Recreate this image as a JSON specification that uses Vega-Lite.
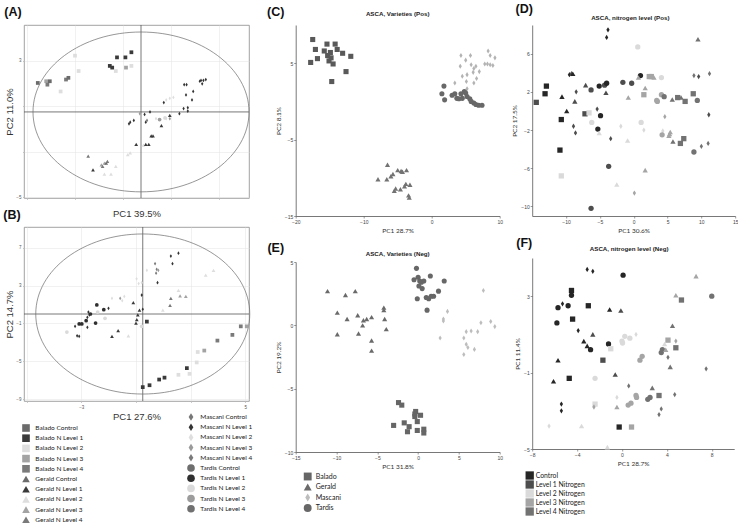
{
"$schema":"https://vega.github.io/schema/vega-lite/v6.json",
"padding":{"left":2,"top":2,"right":0,"bottom":0},
"background":"white",
"datasets":{
"A1":[
{"x":-8.6,"y":1.7,"g":"Balado Control"},{"x":-7.9,"y":1.8,"g":"Balado N Level 3"},{"x":-7.8,"y":1.6,"g":"Balado N Level 4"},{"x":-7.6,"y":1.8,"g":"Balado Control"},{"x":-6.7,"y":1.2,"g":"Balado N Level 2"},{"x":-6.25,"y":1.9,"g":"Balado N Level 4"},{"x":-6.05,"y":2.0,"g":"Balado Control"},{"x":-5.5,"y":3.3,"g":"Balado N Level 2"},{"x":-5.2,"y":2.4,"g":"Balado N Level 2"},{"x":-2.6,"y":2.7,"g":"Balado N Level 1"},{"x":-2.4,"y":2.6,"g":"Balado N Level 1"},{"x":-2.0,"y":3.2,"g":"Balado N Level 1"},{"x":-2.1,"y":2.4,"g":"Balado N Level 2"},{"x":-1.3,"y":3.2,"g":"Balado N Level 1"},{"x":-1.25,"y":2.6,"g":"Balado N Level 3"},{"x":-0.8,"y":3.5,"g":"Balado N Level 1"},{"x":-0.8,"y":2.7,"g":"Balado N Level 2"},
{"x":-4.4,"y":-2.6,"g":"Gerald N Level 4"},{"x":-4.0,"y":-3.4,"g":"Gerald N Level 1"},{"x":-3.3,"y":-3.1,"g":"Gerald N Level 3"},{"x":-3.2,"y":-3.2,"g":"Gerald N Level 4"},{"x":-3.05,"y":-3.0,"g":"Gerald N Level 3"},{"x":-2.9,"y":-3.0,"g":"Gerald Control"},{"x":-2.8,"y":-2.9,"g":"Gerald N Level 4"},{"x":-3.05,"y":-3.65,"g":"Gerald N Level 2"},{"x":-2.5,"y":-3.65,"g":"Gerald N Level 2"},{"x":-2.1,"y":-3.2,"g":"Gerald N Level 2"},{"x":-1.1,"y":-2.5,"g":"Gerald N Level 2"},{"x":-0.9,"y":-2.4,"g":"Gerald N Level 2"},{"x":-0.4,"y":-1.9,"g":"Gerald N Level 1"},{"x":0.2,"y":-1.95,"g":"Gerald N Level 2"},{"x":0.4,"y":-1.9,"g":"Gerald N Level 1"},{"x":0.65,"y":-1.9,"g":"Gerald N Level 1"},{"x":0.85,"y":-1.4,"g":"Gerald N Level 1"},{"x":1.0,"y":-1.4,"g":"Gerald N Level 1"},{"x":1.7,"y":-0.8,"g":"Gerald N Level 1"},{"x":2.4,"y":-0.2,"g":"Gerald N Level 1"}
],
"A2":[
{"x":-1.0,"y":-0.7,"g":"Mascani N Level 1"},{"x":-0.9,"y":-0.6,"g":"Mascani N Level 1"},{"x":-0.6,"y":-0.5,"g":"Mascani N Level 1"},{"x":-0.1,"y":-0.1,"g":"Mascani N Level 3"},{"x":0.3,"y":-0.15,"g":"Mascani N Level 1"},{"x":0.75,"y":0.0,"g":"Mascani N Level 1"},{"x":0.4,"y":-0.6,"g":"Mascani N Level 1"},{"x":0.5,"y":-0.5,"g":"Mascani N Level 4"},{"x":1.25,"y":-0.4,"g":"Mascani N Level 2"},{"x":1.9,"y":0.55,"g":"Mascani N Level 1"},{"x":2.1,"y":0.7,"g":"Mascani N Level 2"},{"x":2.4,"y":0.8,"g":"Mascani N Level 2"},{"x":2.7,"y":0.85,"g":"Mascani N Level 2"},{"x":2.1,"y":-0.4,"g":"Mascani N Level 2"},{"x":2.4,"y":-0.4,"g":"Mascani N Level 3"},{"x":3.55,"y":0.2,"g":"Mascani N Level 1"},{"x":3.9,"y":0.25,"g":"Mascani N Level 1"},{"x":3.9,"y":0.05,"g":"Mascani N Level 1"},{"x":3.2,"y":-0.1,"g":"Mascani N Level 1"},{"x":3.6,"y":1.6,"g":"Mascani N Level 1"},{"x":3.8,"y":1.6,"g":"Mascani N Level 1"},{"x":3.75,"y":1.0,"g":"Mascani N Level 1"},{"x":4.25,"y":0.7,"g":"Mascani N Level 1"},{"x":4.35,"y":1.2,"g":"Mascani N Level 1"},{"x":4.9,"y":1.8,"g":"Mascani N Level 1"},{"x":5.0,"y":1.85,"g":"Mascani N Level 1"},{"x":5.2,"y":1.85,"g":"Mascani N Level 1"},{"x":5.4,"y":1.9,"g":"Mascani N Level 1"},{"x":5.1,"y":1.65,"g":"Mascani N Level 1"},{"x":2.0,"y":-0.35,"g":"Tardis N Level 2"},{"x":1.55,"y":-0.45,"g":"Tardis N Level 3"}
],
"B1":[
{"x":3.07,"y":4.1,"g":"Gerald N Level 2"},{"x":3.45,"y":4.6,"g":"Gerald N Level 2"},{"x":1.74,"y":2.5,"g":"Gerald N Level 2"},{"x":1.82,"y":1.9,"g":"Gerald N Level 3"},{"x":2.1,"y":1.85,"g":"Gerald N Level 3"},{"x":1.37,"y":1.65,"g":"Gerald N Level 4"},{"x":1.33,"y":0.9,"g":"Gerald N Level 4"},{"x":0.98,"y":0.4,"g":"Gerald N Level 2"},{"x":-0.46,"y":1.2,"g":"Gerald N Level 1"},{"x":-0.16,"y":0.4,"g":"Gerald N Level 1"},{"x":-0.24,"y":-0.1,"g":"Gerald N Level 1"},{"x":-0.29,"y":-0.6,"g":"Gerald N Level 1"},{"x":-0.33,"y":-0.95,"g":"Gerald N Level 1"},{"x":-1.2,"y":-1.75,"g":"Gerald N Level 1"},{"x":-1.5,"y":-2.35,"g":"Gerald N Level 1"},{"x":-0.7,"y":-2.3,"g":"Gerald N Level 2"},
{"x":0.2,"y":-0.8,"g":"Balado N Level 1"},{"x":0.0,"y":-7.7,"g":"Balado N Level 1"},{"x":0.33,"y":-7.5,"g":"Balado N Level 1"},{"x":0.8,"y":-6.9,"g":"Balado N Level 1"},{"x":1.06,"y":-6.7,"g":"Balado N Level 1"},{"x":1.74,"y":-6.4,"g":"Balado N Level 2"},{"x":2.15,"y":-5.7,"g":"Balado N Level 1"},{"x":2.28,"y":-6.3,"g":"Balado N Level 2"},{"x":2.63,"y":-5.1,"g":"Balado N Level 2"},{"x":2.68,"y":-4.0,"g":"Balado N Level 2"},{"x":3.0,"y":-3.85,"g":"Balado N Level 3"},{"x":3.64,"y":-2.8,"g":"Balado N Level 4"},{"x":4.37,"y":-2.2,"g":"Balado N Level 4"},{"x":4.78,"y":-1.3,"g":"Balado N Level 4"},{"x":5.07,"y":-1.3,"g":"Balado N Level 3"}
],
"B2":[
{"x":1.37,"y":6.1,"g":"Mascani N Level 1"},{"x":1.74,"y":6.4,"g":"Mascani N Level 1"},{"x":1.45,"y":5.3,"g":"Mascani N Level 1"},{"x":0.6,"y":5.3,"g":"Mascani N Level 4"},{"x":0.68,"y":4.7,"g":"Mascani N Level 4"},{"x":0.76,"y":4.6,"g":"Mascani N Level 3"},{"x":0.65,"y":4.3,"g":"Mascani N Level 4"},{"x":0.72,"y":3.3,"g":"Mascani N Level 1"},{"x":0.2,"y":4.6,"g":"Mascani N Level 2"},{"x":-0.3,"y":3.7,"g":"Mascani N Level 2"},{"x":-0.2,"y":3.2,"g":"Mascani N Level 2"},{"x":-0.05,"y":3.3,"g":"Mascani N Level 2"},{"x":-0.05,"y":2.0,"g":"Mascani N Level 1"},{"x":0.0,"y":0.5,"g":"Mascani N Level 1"},
{"x":-2.24,"y":0.95,"g":"Tardis N Level 1"},{"x":-2.65,"y":0.2,"g":"Mascani N Level 1"},{"x":-2.6,"y":-0.1,"g":"Mascani N Level 1"},{"x":-2.55,"y":0.0,"g":"Tardis N Level 1"},{"x":-2.7,"y":-0.35,"g":"Mascani N Level 1"},{"x":-2.76,"y":-0.7,"g":"Tardis N Level 1"},{"x":-2.7,"y":-1.4,"g":"Mascani N Level 1"},{"x":-3.3,"y":-1.3,"g":"Mascani N Level 1"},{"x":-3.1,"y":-1.05,"g":"Tardis N Level 1"},{"x":-2.97,"y":-1.05,"g":"Tardis N Level 1"},{"x":-3.2,"y":-2.3,"g":"Mascani N Level 1"},{"x":-3.1,"y":-2.35,"g":"Mascani N Level 1"},{"x":-2.3,"y":-0.95,"g":"Tardis N Level 1"},{"x":-1.9,"y":0.45,"g":"Tardis N Level 1"},{"x":-1.67,"y":0.6,"g":"Mascani N Level 1"},
{"x":-3.7,"y":-1.9,"g":"Tardis N Level 2"},{"x":-2.2,"y":0.2,"g":"Tardis N Level 2"},{"x":-1.84,"y":-0.45,"g":"Tardis N Level 2"},{"x":-1.5,"y":1.65,"g":"Mascani N Level 2"},{"x":-1.1,"y":1.65,"g":"Mascani N Level 3"},{"x":-0.9,"y":1.85,"g":"Mascani N Level 2"},{"x":-1.0,"y":1.4,"g":"Mascani N Level 2"},{"x":-0.05,"y":-1.3,"g":"Tardis N Level 2"}
],
"C":[
{"x":-17.5,"y":8.1,"v":"Balado"},{"x":-17.1,"y":6.8,"v":"Balado"},{"x":-16.8,"y":5.6,"v":"Balado"},{"x":-17.8,"y":5.1,"v":"Balado"},{"x":-15.8,"y":6.6,"v":"Balado"},{"x":-15.4,"y":7.5,"v":"Balado"},{"x":-15.3,"y":6.0,"v":"Balado"},{"x":-15.1,"y":5.3,"v":"Balado"},{"x":-14.9,"y":6.4,"v":"Balado"},{"x":-14.8,"y":5.7,"v":"Balado"},{"x":-14.5,"y":4.9,"v":"Balado"},{"x":-14.2,"y":7.5,"v":"Balado"},{"x":-13.9,"y":6.8,"v":"Balado"},{"x":-13.1,"y":6.3,"v":"Balado"},{"x":-11.9,"y":5.9,"v":"Balado"},{"x":-12.6,"y":3.9,"v":"Balado"},{"x":-14.7,"y":2.6,"v":"Balado"},
{"x":-6.5,"y":-8.3,"v":"Gerald"},{"x":-7.9,"y":-10.2,"v":"Gerald"},{"x":-6.6,"y":-10.2,"v":"Gerald"},{"x":-6.0,"y":-9.8,"v":"Gerald"},{"x":-5.7,"y":-9.5,"v":"Gerald"},{"x":-5.0,"y":-9.0,"v":"Gerald"},{"x":-4.5,"y":-9.1,"v":"Gerald"},{"x":-4.3,"y":-9.2,"v":"Gerald"},{"x":-3.7,"y":-9.0,"v":"Gerald"},{"x":-5.5,"y":-11.7,"v":"Gerald"},{"x":-5.3,"y":-11.4,"v":"Gerald"},{"x":-4.6,"y":-11.5,"v":"Gerald"},{"x":-4.0,"y":-11.1,"v":"Gerald"},{"x":-3.8,"y":-10.8,"v":"Gerald"},{"x":-3.2,"y":-10.9,"v":"Gerald"},{"x":-3.3,"y":-12.6,"v":"Gerald"},{"x":-3.4,"y":-12.3,"v":"Gerald"},
{"x":4.3,"y":6.0,"v":"Mascani"},{"x":5.0,"y":5.4,"v":"Mascani"},{"x":5.7,"y":6.0,"v":"Mascani"},{"x":4.2,"y":4.6,"v":"Mascani"},{"x":5.8,"y":4.8,"v":"Mascani"},{"x":6.2,"y":4.3,"v":"Mascani"},{"x":3.4,"y":2.4,"v":"Mascani"},{"x":4.5,"y":3.3,"v":"Mascani"},{"x":5.2,"y":3.5,"v":"Mascani"},{"x":5.1,"y":2.6,"v":"Mascani"},{"x":6.1,"y":3.8,"v":"Mascani"},{"x":6.2,"y":2.4,"v":"Mascani"},{"x":5.2,"y":1.65,"v":"Mascani"},{"x":6.5,"y":4.6,"v":"Mascani"},{"x":6.6,"y":3.0,"v":"Mascani"},{"x":8.3,"y":6.6,"v":"Mascani"},{"x":8.6,"y":6.0,"v":"Mascani"},{"x":7.8,"y":4.9,"v":"Mascani"},{"x":8.2,"y":4.9,"v":"Mascani"},{"x":8.6,"y":4.8,"v":"Mascani"},{"x":9.0,"y":4.7,"v":"Mascani"},{"x":9.3,"y":5.7,"v":"Mascani"},{"x":7.0,"y":3.9,"v":"Mascani"},
{"x":1.5,"y":1.0,"v":"Tardis"},{"x":1.8,"y":2.0,"v":"Tardis"},{"x":1.9,"y":0.2,"v":"Tardis"},{"x":3.0,"y":0.8,"v":"Tardis"},{"x":3.4,"y":1.0,"v":"Tardis"},{"x":3.7,"y":0.4,"v":"Tardis"},{"x":4.0,"y":0.35,"v":"Tardis"},{"x":4.3,"y":1.0,"v":"Tardis"},{"x":4.5,"y":0.4,"v":"Tardis"},{"x":4.8,"y":1.3,"v":"Tardis"},{"x":5.0,"y":1.1,"v":"Tardis"},{"x":5.2,"y":0.65,"v":"Tardis"},{"x":5.6,"y":0.35,"v":"Tardis"},{"x":5.8,"y":0.0,"v":"Tardis"},{"x":6.2,"y":-0.2,"v":"Tardis"},{"x":6.5,"y":-0.4,"v":"Tardis"},{"x":6.9,"y":-0.5,"v":"Tardis"},{"x":7.4,"y":-0.5,"v":"Tardis"}
],
"E":[
{"x":-0.2,"y":4.5,"v":"Tardis"},{"x":-0.5,"y":3.6,"v":"Tardis"},{"x":0.0,"y":3.8,"v":"Tardis"},{"x":0.2,"y":3.5,"v":"Tardis"},{"x":0.4,"y":3.4,"v":"Tardis"},{"x":0.7,"y":3.5,"v":"Tardis"},{"x":0.1,"y":3.1,"v":"Tardis"},{"x":0.5,"y":2.9,"v":"Tardis"},{"x":1.5,"y":3.9,"v":"Tardis"},{"x":3.2,"y":3.5,"v":"Tardis"},{"x":2.5,"y":2.7,"v":"Tardis"},{"x":-0.1,"y":2.1,"v":"Tardis"},{"x":1.0,"y":2.2,"v":"Tardis"},{"x":1.3,"y":2.1,"v":"Tardis"},{"x":1.6,"y":2.3,"v":"Tardis"},{"x":1.9,"y":2.3,"v":"Tardis"},{"x":1.1,"y":1.2,"v":"Tardis"},
{"x":-11.1,"y":2.7,"v":"Gerald"},{"x":-8.9,"y":2.4,"v":"Gerald"},{"x":-7.7,"y":2.7,"v":"Gerald"},{"x":-9.9,"y":1.0,"v":"Gerald"},{"x":-8.7,"y":0.5,"v":"Gerald"},{"x":-7.4,"y":0.8,"v":"Gerald"},{"x":-6.7,"y":0.4,"v":"Gerald"},{"x":-6.3,"y":0.5,"v":"Gerald"},{"x":-5.7,"y":0.65,"v":"Gerald"},{"x":-6.8,"y":0.0,"v":"Gerald"},{"x":-7.3,"y":-0.65,"v":"Gerald"},{"x":-9.9,"y":-0.7,"v":"Gerald"},{"x":-5.7,"y":-1.2,"v":"Gerald"},{"x":-5.7,"y":-2.0,"v":"Gerald"},{"x":-4.2,"y":1.4,"v":"Gerald"},{"x":-4.2,"y":1.2,"v":"Gerald"},{"x":-4.1,"y":0.5,"v":"Gerald"},{"x":-3.9,"y":-0.3,"v":"Gerald"},
{"x":3.6,"y":1.1,"v":"Mascani"},{"x":3.1,"y":0.5,"v":"Mascani"},{"x":3.1,"y":0.35,"v":"Mascani"},{"x":2.7,"y":-1.0,"v":"Mascani"},{"x":5.9,"y":-0.5,"v":"Mascani"},{"x":6.5,"y":-0.45,"v":"Mascani"},{"x":7.3,"y":-0.5,"v":"Mascani"},{"x":5.6,"y":-1.0,"v":"Mascani"},{"x":5.9,"y":-1.5,"v":"Mascani"},{"x":6.1,"y":-1.75,"v":"Mascani"},{"x":5.6,"y":-2.3,"v":"Mascani"},{"x":6.9,"y":-1.9,"v":"Mascani"},{"x":8.0,"y":2.75,"v":"Mascani"},{"x":7.7,"y":0.2,"v":"Mascani"},{"x":8.9,"y":0.3,"v":"Mascani"},{"x":9.4,"y":-0.1,"v":"Mascani"},
{"x":-2.4,"y":-6.1,"v":"Balado"},{"x":-2.0,"y":-6.3,"v":"Balado"},{"x":-0.3,"y":-6.8,"v":"Balado"},{"x":-0.4,"y":-7.0,"v":"Balado"},{"x":0.3,"y":-7.1,"v":"Balado"},{"x":-0.4,"y":-7.2,"v":"Balado"},{"x":-1.7,"y":-7.7,"v":"Balado"},{"x":-1.1,"y":-8.0,"v":"Balado"},{"x":-0.1,"y":-7.6,"v":"Balado"},{"x":-3.0,"y":-7.9,"v":"Balado"},{"x":-1.3,"y":-8.4,"v":"Balado"},{"x":-0.1,"y":-8.3,"v":"Balado"},{"x":0.7,"y":-8.2,"v":"Balado"},{"x":0.7,"y":-8.5,"v":"Balado"}
],
"D":[
{"x":-3.8,"y":8.5,"v":"Mascani","n":"Control"},{"x":-4.0,"y":7.7,"v":"Mascani","n":"Control"},{"x":0.6,"y":6.7,"v":"Tardis","n":"Level 2 Nitrogen"},{"x":9.5,"y":7.5,"v":"Gerald","n":"Level 4 Nitrogen"},{"x":-9.5,"y":3.8,"v":"Mascani","n":"Control"},{"x":-9.2,"y":3.9,"v":"Mascani","n":"Level 1 Nitrogen"},{"x":-9.0,"y":3.9,"v":"Gerald","n":"Control"},{"x":-12.9,"y":2.6,"v":"Balado","n":"Control"},{"x":-13.1,"y":1.8,"v":"Balado","n":"Control"},{"x":-14.4,"y":0.9,"v":"Balado","n":"Level 1 Nitrogen"},{"x":-10.6,"y":1.5,"v":"Gerald","n":"Control"},{"x":-8.7,"y":1.0,"v":"Gerald","n":"Level 1 Nitrogen"},{"x":-9.9,"y":0.0,"v":"Gerald","n":"Control"},{"x":-10.7,"y":-0.9,"v":"Balado","n":"Control"},{"x":-8.5,"y":2.0,"v":"Mascani","n":"Level 1 Nitrogen"},{"x":-7.1,"y":2.7,"v":"Gerald","n":"Level 1 Nitrogen"},{"x":-6.3,"y":2.2,"v":"Tardis","n":"Level 1 Nitrogen"},{"x":-5.1,"y":2.6,"v":"Tardis","n":"Control"},{"x":-4.3,"y":2.7,"v":"Tardis","n":"Level 1 Nitrogen"},{"x":-4.0,"y":2.9,"v":"Tardis","n":"Control"},{"x":-4.1,"y":1.9,"v":"Gerald","n":"Level 1 Nitrogen"},{"x":-1.6,"y":3.0,"v":"Tardis","n":"Level 1 Nitrogen"},{"x":-0.3,"y":2.9,"v":"Tardis","n":"Level 1 Nitrogen"},{"x":1.0,"y":3.7,"v":"Tardis","n":"Control"},{"x":0.7,"y":3.5,"v":"Gerald","n":"Level 3 Nitrogen"},{"x":2.3,"y":3.6,"v":"Balado","n":"Level 3 Nitrogen"},{"x":2.6,"y":3.6,"v":"Balado","n":"Level 3 Nitrogen"},{"x":3.0,"y":3.5,"v":"Gerald","n":"Level 3 Nitrogen"},{"x":4.1,"y":3.5,"v":"Tardis","n":"Level 2 Nitrogen"},{"x":1.7,"y":2.4,"v":"Gerald","n":"Level 3 Nitrogen"},{"x":1.5,"y":1.7,"v":"Balado","n":"Level 3 Nitrogen"},{"x":-0.8,"y":1.4,"v":"Gerald","n":"Level 3 Nitrogen"},{"x":3.4,"y":1.1,"v":"Tardis","n":"Level 3 Nitrogen"},{"x":3.5,"y":1.0,"v":"Tardis","n":"Level 3 Nitrogen"},{"x":4.1,"y":1.7,"v":"Tardis","n":"Level 3 Nitrogen"},{"x":4.5,"y":1.5,"v":"Tardis","n":"Level 4 Nitrogen"},{"x":5.7,"y":1.2,"v":"Gerald","n":"Level 4 Nitrogen"},{"x":6.5,"y":1.4,"v":"Balado","n":"Level 4 Nitrogen"},{"x":7.0,"y":1.4,"v":"Gerald","n":"Level 4 Nitrogen"},{"x":7.6,"y":1.0,"v":"Balado","n":"Level 4 Nitrogen"},{"x":8.8,"y":1.8,"v":"Balado","n":"Level 4 Nitrogen"},{"x":9.4,"y":1.1,"v":"Tardis","n":"Level 4 Nitrogen"},{"x":8.9,"y":3.7,"v":"Mascani","n":"Level 4 Nitrogen"},{"x":9.6,"y":3.6,"v":"Mascani","n":"Level 1 Nitrogen"},{"x":11.2,"y":3.9,"v":"Mascani","n":"Level 4 Nitrogen"},{"x":11.1,"y":-0.4,"v":"Mascani","n":"Level 1 Nitrogen"},{"x":4.6,"y":-0.6,"v":"Mascani","n":"Level 3 Nitrogen"},{"x":-7.2,"y":-0.3,"v":"Balado","n":"Level 1 Nitrogen"},{"x":-6.6,"y":-0.2,"v":"Balado","n":"Level 2 Nitrogen"},{"x":-6.2,"y":-1.2,"v":"Tardis","n":"Level 2 Nitrogen"},{"x":-5.4,"y":0.2,"v":"Mascani","n":"Level 1 Nitrogen"},{"x":-4.9,"y":-0.5,"v":"Tardis","n":"Control"},{"x":-8.9,"y":-1.6,"v":"Mascani","n":"Level 1 Nitrogen"},{"x":-8.6,"y":-2.3,"v":"Mascani","n":"Level 1 Nitrogen"},{"x":-5.3,"y":-1.9,"v":"Tardis","n":"Control"},{"x":-5.1,"y":-2.3,"v":"Gerald","n":"Level 2 Nitrogen"},{"x":-3.4,"y":-2.9,"v":"Mascani","n":"Level 1 Nitrogen"},{"x":-1.9,"y":-1.6,"v":"Mascani","n":"Level 2 Nitrogen"},{"x":1.1,"y":-1.2,"v":"Tardis","n":"Level 2 Nitrogen"},{"x":1.5,"y":-2.0,"v":"Mascani","n":"Level 2 Nitrogen"},{"x":-0.9,"y":-3.1,"v":"Gerald","n":"Level 2 Nitrogen"},{"x":4.3,"y":-2.1,"v":"Mascani","n":"Level 2 Nitrogen"},{"x":4.2,"y":-2.5,"v":"Tardis","n":"Level 3 Nitrogen"},{"x":5.2,"y":-2.6,"v":"Gerald","n":"Level 3 Nitrogen"},{"x":5.3,"y":-2.4,"v":"Gerald","n":"Level 3 Nitrogen"},{"x":5.4,"y":-2.2,"v":"Gerald","n":"Level 3 Nitrogen"},{"x":5.8,"y":-3.2,"v":"Gerald","n":"Level 4 Nitrogen"},{"x":6.9,"y":-3.4,"v":"Balado","n":"Level 4 Nitrogen"},{"x":7.4,"y":-2.9,"v":"Balado","n":"Level 4 Nitrogen"},{"x":10.0,"y":-3.7,"v":"Mascani","n":"Level 4 Nitrogen"},{"x":11.0,"y":-3.4,"v":"Mascani","n":"Level 4 Nitrogen"},{"x":8.9,"y":-4.3,"v":"Tardis","n":"Level 4 Nitrogen"},{"x":-10.9,"y":-4.1,"v":"Balado","n":"Control"},{"x":-3.7,"y":-5.8,"v":"Tardis","n":"Level 1 Nitrogen"},{"x":1.7,"y":-6.2,"v":"Gerald","n":"Level 3 Nitrogen"},{"x":-10.7,"y":-6.8,"v":"Balado","n":"Level 2 Nitrogen"},{"x":-2.5,"y":-7.7,"v":"Gerald","n":"Level 2 Nitrogen"},{"x":0.1,"y":-8.6,"v":"Mascani","n":"Level 3 Nitrogen"},{"x":-6.3,"y":-10.2,"v":"Tardis","n":"Level 1 Nitrogen"}
],
"F":[
{"x":-3.1,"y":4.4,"v":"Mascani","n":"Control"},{"x":-2.6,"y":4.3,"v":"Mascani","n":"Control"},{"x":0.1,"y":4.1,"v":"Tardis","n":"Control"},{"x":6.6,"y":4.05,"v":"Gerald","n":"Level 3 Nitrogen"},{"x":-4.5,"y":3.3,"v":"Balado","n":"Control"},{"x":-4.5,"y":3.05,"v":"Tardis","n":"Control"},{"x":-3.0,"y":2.5,"v":"Balado","n":"Control"},{"x":-5.7,"y":2.4,"v":"Tardis","n":"Control"},{"x":-5.3,"y":2.6,"v":"Mascani","n":"Control"},{"x":-4.8,"y":2.5,"v":"Tardis","n":"Control"},{"x":-4.4,"y":1.8,"v":"Balado","n":"Control"},{"x":-5.8,"y":1.6,"v":"Tardis","n":"Control"},{"x":-3.9,"y":1.2,"v":"Mascani","n":"Control"},{"x":-3.4,"y":0.65,"v":"Gerald","n":"Control"},{"x":-3.1,"y":0.4,"v":"Gerald","n":"Control"},{"x":-2.8,"y":0.2,"v":"Tardis","n":"Control"},{"x":-2.6,"y":1.0,"v":"Gerald","n":"Level 1 Nitrogen"},{"x":-1.1,"y":2.3,"v":"Gerald","n":"Control"},{"x":-0.1,"y":2.25,"v":"Gerald","n":"Level 1 Nitrogen"},{"x":-5.7,"y":-0.35,"v":"Gerald","n":"Control"},{"x":-6.1,"y":-1.45,"v":"Gerald","n":"Control"},{"x":-4.7,"y":-1.3,"v":"Balado","n":"Control"},{"x":-1.2,"y":0.5,"v":"Tardis","n":"Control"},{"x":-1.7,"y":-0.35,"v":"Balado","n":"Level 1 Nitrogen"},{"x":-0.6,"y":-1.1,"v":"Gerald","n":"Level 1 Nitrogen"},{"x":-5.4,"y":-2.65,"v":"Mascani","n":"Control"},{"x":-5.4,"y":-3.0,"v":"Mascani","n":"Control"},{"x":-1.0,"y":0.25,"v":"Balado","n":"Level 2 Nitrogen"},{"x":0.0,"y":0.65,"v":"Tardis","n":"Level 2 Nitrogen"},{"x":0.05,"y":0.55,"v":"Tardis","n":"Level 2 Nitrogen"},{"x":0.25,"y":0.9,"v":"Tardis","n":"Level 2 Nitrogen"},{"x":0.7,"y":0.8,"v":"Tardis","n":"Level 2 Nitrogen"},{"x":1.25,"y":1.0,"v":"Mascani","n":"Level 2 Nitrogen"},{"x":-2.4,"y":-1.3,"v":"Tardis","n":"Level 2 Nitrogen"},{"x":-2.4,"y":-2.65,"v":"Balado","n":"Level 2 Nitrogen"},{"x":-2.5,"y":-2.8,"v":"Mascani","n":"Level 3 Nitrogen"},{"x":-0.45,"y":-2.3,"v":"Mascani","n":"Level 2 Nitrogen"},{"x":-0.45,"y":-2.8,"v":"Gerald","n":"Level 3 Nitrogen"},{"x":0.6,"y":-1.7,"v":"Mascani","n":"Level 4 Nitrogen"},{"x":0.55,"y":-2.7,"v":"Tardis","n":"Level 3 Nitrogen"},{"x":0.8,"y":-2.6,"v":"Tardis","n":"Level 3 Nitrogen"},{"x":1.25,"y":-2.2,"v":"Tardis","n":"Level 3 Nitrogen"},{"x":1.3,"y":-2.3,"v":"Tardis","n":"Level 3 Nitrogen"},{"x":1.6,"y":-0.35,"v":"Tardis","n":"Level 3 Nitrogen"},{"x":1.8,"y":-0.15,"v":"Tardis","n":"Level 3 Nitrogen"},{"x":2.3,"y":-2.4,"v":"Tardis","n":"Level 4 Nitrogen"},{"x":2.5,"y":-2.3,"v":"Tardis","n":"Level 4 Nitrogen"},{"x":2.7,"y":-1.8,"v":"Gerald","n":"Level 4 Nitrogen"},{"x":3.3,"y":-2.2,"v":"Balado","n":"Level 4 Nitrogen"},{"x":3.5,"y":0.05,"v":"Tardis","n":"Level 4 Nitrogen"},{"x":3.6,"y":0.2,"v":"Tardis","n":"Level 4 Nitrogen"},{"x":3.9,"y":0.2,"v":"Gerald","n":"Level 3 Nitrogen"},{"x":3.8,"y":0.5,"v":"Gerald","n":"Level 2 Nitrogen"},{"x":4.1,"y":0.7,"v":"Balado","n":"Level 3 Nitrogen"},{"x":4.1,"y":-0.2,"v":"Mascani","n":"Level 4 Nitrogen"},{"x":4.3,"y":-0.7,"v":"Gerald","n":"Level 4 Nitrogen"},{"x":4.5,"y":1.45,"v":"Gerald","n":"Level 4 Nitrogen"},{"x":4.8,"y":0.65,"v":"Mascani","n":"Level 3 Nitrogen"},{"x":4.8,"y":0.3,"v":"Balado","n":"Level 4 Nitrogen"},{"x":4.8,"y":3.05,"v":"Gerald","n":"Level 3 Nitrogen"},{"x":5.3,"y":2.8,"v":"Balado","n":"Level 4 Nitrogen"},{"x":8.0,"y":3.0,"v":"Tardis","n":"Level 4 Nitrogen"},{"x":7.5,"y":-0.8,"v":"Mascani","n":"Level 4 Nitrogen"},{"x":3.3,"y":-3.2,"v":"Mascani","n":"Level 4 Nitrogen"},{"x":3.5,"y":-2.9,"v":"Mascani","n":"Level 4 Nitrogen"},{"x":4.7,"y":-2.15,"v":"Mascani","n":"Level 4 Nitrogen"},{"x":-0.25,"y":-3.85,"v":"Balado","n":"Control"},{"x":0.85,"y":-3.85,"v":"Balado","n":"Level 3 Nitrogen"},{"x":-6.5,"y":-3.8,"v":"Mascani","n":"Level 2 Nitrogen"},{"x":-3.6,"y":-3.8,"v":"Gerald","n":"Level 2 Nitrogen"},{"x":-1.3,"y":-4.9,"v":"Gerald","n":"Level 2 Nitrogen"}
]
},
"hconcat":[
{"vconcat":[
{"width":225,"height":173,"view":{"stroke":"#8a8a8a","strokeWidth":0.8},
"layer":[
{"data":{"values":[{}]},"mark":{"type":"rule","color":"#555","strokeWidth":0.8},"encoding":{"x":{"datum":0,"type":"quantitative"}}},
{"data":{"values":[{}]},"mark":{"type":"rule","color":"#555","strokeWidth":0.8},"encoding":{"y":{"datum":0,"type":"quantitative"}}},
{"data":{"values":[{}]},"mark":{"type":"point","shape":"M-1,0C-1,-0.409,-0.5523,-0.74,0,-0.74C0.5523,-0.74,1,-0.409,1,0C1,0.409,0.5523,0.74,0,0.74C-0.5523,0.74,-1,0.409,-1,0Z","size":46656,"filled":false,"color":"#6a6a6a","strokeWidth":0.7,"opacity":1},"encoding":{"x":{"datum":0,"type":"quantitative"},"y":{"datum":0,"type":"quantitative"}}},
{"data":{"name":"A1"},"mark":{"type":"point","filled":true,"size":14,"opacity":1},
"encoding":{
"x":{"field":"x","type":"quantitative","scale":{"domain":[-9.75,9],"nice":false,"zero":false},"axis":{"title":"PC1 39.5%","values":[-9.5,-9,-8.5,-8,-7.5,-7,-6.5,-6,-5.5,-5,-4.5,-4,-3.5,-3,-2.5,-2,-1.5,-1,-0.5,0,0.5,1,1.5,2,2.5,3,3.5,4,4.5,5,5.5,6,6.5,7,7.5,8,8.5,9],"labelExpr":"abs(datum.value-round(datum.value))<0.01 ? format(datum.value,'d') : ''","labelOverlap":false,"labelBound":false,"grid":true,"gridColor":"#e2e2e2","gridWidth":0.5,"domain":false,"tickSize":1.5,"tickColor":"#aaa","labelFontSize":4.5,"labelColor":"#555","labelPadding":1.5,"titleFont":"Liberation Sans","titleFontSize":9.5,"titleColor":"#333","titlePadding":3}},
"y":{"field":"y","type":"quantitative","scale":{"domain":[-5.05,5.1],"nice":false,"zero":false},"axis":{"title":"PC2 11.0%","values":[-5,-4.667,-4.333,-4,-3.667,-3.333,-3,-2.667,-2.333,-2,-1.667,-1.333,-1,-0.667,-0.333,0,0.333,0.667,1,1.333,1.667,2,2.333,2.667,3,3.333,3.667,4,4.333,4.667,5],"labelExpr":"abs(datum.value-round(datum.value))<0.01 ? format(datum.value,'d') : ''","labelOverlap":false,"labelBound":false,"grid":true,"gridColor":"#e2e2e2","gridWidth":0.5,"domain":false,"tickSize":1.5,"tickColor":"#aaa","labelFontSize":4.5,"labelColor":"#555","labelPadding":1.5,"titleFont":"Liberation Sans","titleFontSize":9.5,"titleColor":"#333","titlePadding":1}},
"color":{"field":"g","type":"nominal","scale":{"domain":["Balado Control","Balado N Level 1","Balado N Level 2","Balado N Level 3","Balado N Level 4","Gerald Control","Gerald N Level 1","Gerald N Level 2","Gerald N Level 3","Gerald N Level 4"],"range":["#6b6b6b","#3a3a3a","#dedede","#a3a3a3","#7a7a7a","#6b6b6b","#3a3a3a","#dedede","#a3a3a3","#7a7a7a"]},"legend":null},
"shape":{"field":"g","type":"nominal","scale":{"domain":["Balado Control","Balado N Level 1","Balado N Level 2","Balado N Level 3","Balado N Level 4","Gerald Control","Gerald N Level 1","Gerald N Level 2","Gerald N Level 3","Gerald N Level 4"],"range":["square","square","square","square","square","triangle-up","triangle-up","triangle-up","triangle-up","triangle-up"]},"legend":null}}},
{"data":{"name":"A2"},"mark":{"type":"point","filled":true,"size":14,"opacity":1},
"encoding":{
"x":{"field":"x","type":"quantitative"},
"y":{"field":"y","type":"quantitative"},
"color":{"field":"g","type":"nominal","scale":{"domain":["Mascani Control","Mascani N Level 1","Mascani N Level 2","Mascani N Level 3","Mascani N Level 4","Tardis Control","Tardis N Level 1","Tardis N Level 2","Tardis N Level 3","Tardis N Level 4"],"range":["#777777","#333333","#dedede","#9a9a9a","#7a7a7a","#6e6e6e","#2f2f2f","#dadada","#9c9c9c","#707070"]},"legend":null},
"shape":{"field":"g","type":"nominal","scale":{"domain":["Mascani Control","Mascani N Level 1","Mascani N Level 2","Mascani N Level 3","Mascani N Level 4","Tardis Control","Tardis N Level 1","Tardis N Level 2","Tardis N Level 3","Tardis N Level 4"],"range":["M0,-1L0.62,0L0,1L-0.62,0Z","M0,-1L0.62,0L0,1L-0.62,0Z","M0,-1L0.62,0L0,1L-0.62,0Z","M0,-1L0.62,0L0,1L-0.62,0Z","M0,-1L0.62,0L0,1L-0.62,0Z","circle","circle","circle","circle","circle"]},"legend":null}}},
{"data":{"values":[{}]},"mark":{"type":"text","text":"(A)","font":"Liberation Sans","fontSize":12.5,"fontWeight":"bold","align":"center","baseline":"middle","color":"#111"},"encoding":{"x":{"datum":-10.67,"type":"quantitative"},"y":{"datum":5.86,"type":"quantitative"}}}
],
"resolve":{"scale":{"color":"independent","shape":"independent"}}},
{"width":225,"height":174,"view":{"stroke":"#8a8a8a","strokeWidth":0.8},
"layer":[
{"data":{"values":[{}]},"mark":{"type":"rule","color":"#555","strokeWidth":0.8},"encoding":{"x":{"datum":0,"type":"quantitative"}}},
{"data":{"values":[{}]},"mark":{"type":"rule","color":"#555","strokeWidth":0.8},"encoding":{"y":{"datum":0,"type":"quantitative"}}},
{"data":{"values":[{}]},"mark":{"type":"point","shape":"M-1,0C-1,-0.413,-0.5523,-0.748,0,-0.748C0.5523,-0.748,1,-0.413,1,0C1,0.413,0.5523,0.748,0,0.748C-0.5523,0.748,-1,0.413,-1,0Z","size":45796,"filled":false,"color":"#6a6a6a","strokeWidth":0.7,"opacity":1},"encoding":{"x":{"datum":0,"type":"quantitative"},"y":{"datum":0,"type":"quantitative"}}},
{"data":{"name":"B1"},"mark":{"type":"point","filled":true,"size":14,"opacity":1},
"encoding":{
"x":{"field":"x","type":"quantitative","scale":{"domain":[-5.79,5.18],"nice":false,"zero":false},"axis":{"title":"PC1 27.6%","values":[-5.667,-5.333,-5,-4.667,-4.333,-4,-3.667,-3.333,-3,-2.667,-2.333,-2,-1.667,-1.333,-1,-0.667,-0.333,0,0.333,0.667,1,1.333,1.667,2,2.333,2.667,3,3.333,3.667,4,4.333,4.667,5],"labelExpr":"abs(datum.value-round(datum.value))<0.01 ? format(datum.value,'d') : ''","labelOverlap":false,"labelBound":false,"grid":true,"gridColor":"#e2e2e2","gridWidth":0.5,"domain":false,"tickSize":1.5,"tickColor":"#aaa","labelFontSize":4.5,"labelColor":"#555","labelPadding":1.5,"titleFont":"Liberation Sans","titleFontSize":9.5,"titleColor":"#333","titlePadding":3}},
"y":{"field":"y","type":"quantitative","scale":{"domain":[-9.16,9.16],"nice":false,"zero":false},"axis":{"title":"PC2 14.7%","values":[-9,-8.5,-8,-7.5,-7,-6.5,-6,-5.5,-5,-4.5,-4,-3.5,-3,-2.5,-2,-1.5,-1,-0.5,0,0.5,1,1.5,2,2.5,3,3.5,4,4.5,5,5.5,6,6.5,7,7.5,8,8.5,9],"labelExpr":"abs(datum.value-round(datum.value))<0.01 ? format(datum.value,'d') : ''","labelOverlap":false,"labelBound":false,"grid":true,"gridColor":"#e2e2e2","gridWidth":0.5,"domain":false,"tickSize":1.5,"tickColor":"#aaa","labelFontSize":4.5,"labelColor":"#555","labelPadding":1.5,"titleFont":"Liberation Sans","titleFontSize":9.5,"titleColor":"#333","titlePadding":1}},
"color":{"field":"g","type":"nominal","scale":{"domain":["Balado Control","Balado N Level 1","Balado N Level 2","Balado N Level 3","Balado N Level 4","Gerald Control","Gerald N Level 1","Gerald N Level 2","Gerald N Level 3","Gerald N Level 4"],"range":["#6b6b6b","#3a3a3a","#dedede","#a3a3a3","#7a7a7a","#6b6b6b","#3a3a3a","#dedede","#a3a3a3","#7a7a7a"]},"legend":{"orient":"none","legendX":-2,"legendY":197,"title":null,"padding":0,"symbolSize":58,"labelFontSize":6.5,"labelFont":"Lato","labelColor":"#222","rowPadding":2.2,"labelOffset":5.3}},
"shape":{"field":"g","type":"nominal","scale":{"domain":["Balado Control","Balado N Level 1","Balado N Level 2","Balado N Level 3","Balado N Level 4","Gerald Control","Gerald N Level 1","Gerald N Level 2","Gerald N Level 3","Gerald N Level 4"],"range":["square","square","square","square","square","triangle-up","triangle-up","triangle-up","triangle-up","triangle-up"]},"legend":{"orient":"none","legendX":-2,"legendY":197,"title":null,"padding":0,"symbolSize":58,"labelFontSize":6.5,"labelFont":"Lato","labelColor":"#222","rowPadding":2.2,"labelOffset":5.3}}}},
{"data":{"name":"B2"},"mark":{"type":"point","filled":true,"size":14,"opacity":1},
"encoding":{
"x":{"field":"x","type":"quantitative"},
"y":{"field":"y","type":"quantitative"},
"color":{"field":"g","type":"nominal","scale":{"domain":["Mascani Control","Mascani N Level 1","Mascani N Level 2","Mascani N Level 3","Mascani N Level 4","Tardis Control","Tardis N Level 1","Tardis N Level 2","Tardis N Level 3","Tardis N Level 4"],"range":["#777777","#333333","#dedede","#9a9a9a","#7a7a7a","#6e6e6e","#2f2f2f","#dadada","#9c9c9c","#707070"]},"legend":{"orient":"none","legendX":163,"legendY":186,"title":null,"padding":0,"symbolSize":58,"labelFontSize":6.5,"labelFont":"Lato","labelColor":"#222","rowPadding":2.2,"labelOffset":5.3}},
"shape":{"field":"g","type":"nominal","scale":{"domain":["Mascani Control","Mascani N Level 1","Mascani N Level 2","Mascani N Level 3","Mascani N Level 4","Tardis Control","Tardis N Level 1","Tardis N Level 2","Tardis N Level 3","Tardis N Level 4"],"range":["M0,-1L0.62,0L0,1L-0.62,0Z","M0,-1L0.62,0L0,1L-0.62,0Z","M0,-1L0.62,0L0,1L-0.62,0Z","M0,-1L0.62,0L0,1L-0.62,0Z","M0,-1L0.62,0L0,1L-0.62,0Z","circle","circle","circle","circle","circle"]},"legend":{"orient":"none","legendX":163,"legendY":186,"title":null,"padding":0,"symbolSize":58,"labelFontSize":6.5,"labelFont":"Lato","labelColor":"#222","rowPadding":2.2,"labelOffset":5.3}}}},
{"data":{"values":[{}]},"mark":{"type":"text","text":"(B)","font":"Liberation Sans","fontSize":12.5,"fontWeight":"bold","align":"center","baseline":"middle","color":"#111"},"encoding":{"x":{"datum":-6.38,"type":"quantitative"},"y":{"datum":10.42,"type":"quantitative"}}}
],
"resolve":{"scale":{"color":"independent","shape":"independent"}}}
],"spacing":29,"bounds":"flush","resolve":{"scale":{"color":"independent","shape":"independent"}}},
{"hconcat":[
{"vconcat":[
{"width":204,"height":191,
"layer":[
{"data":{"name":"C"},"mark":{"type":"point","filled":true,"size":26,"opacity":1},
"encoding":{
"x":{"field":"x","type":"quantitative","scale":{"domain":[-20,10],"nice":false,"zero":false},"axis":{"title":"PC1 28.7%","values":[-20,-15,-10,-5,0,5,10]}},
"y":{"field":"y","type":"quantitative","scale":{"domain":[-15,10],"nice":false,"zero":false},"axis":{"title":"PC2 8.1%","values":[-15,-10,-5,0,5,10]}},
"color":{"field":"v","type":"nominal","scale":{"domain":["Balado","Gerald","Mascani","Tardis"],"range":["#595959","#737373","#b3b3b3","#686868"]},"legend":null},
"shape":{"field":"v","type":"nominal","scale":{"domain":["Balado","Gerald","Mascani","Tardis"],"range":["square","triangle-up","M0,-1L0.62,0L0,1L-0.62,0Z","circle"]},"legend":null}}},
{"data":{"values":[{}]},"mark":{"type":"text","text":"ASCA, Varieties (Pos)","font":"Liberation Sans","fontSize":6.2,"fontWeight":"bold","align":"center","baseline":"middle","color":"#222"},"encoding":{"x":{"datum":-5,"type":"quantitative"},"y":{"datum":11.44,"type":"quantitative"}}},
{"data":{"values":[{}]},"mark":{"type":"text","text":"(C)","font":"Liberation Sans","fontSize":12.5,"fontWeight":"bold","align":"center","baseline":"middle","color":"#111"},"encoding":{"x":{"datum":-22.94,"type":"quantitative"},"y":{"datum":11.7,"type":"quantitative"}}}
]},
{"width":204,"height":190,
"layer":[
{"data":{"name":"E"},"mark":{"type":"point","filled":true,"size":26,"opacity":1},
"encoding":{
"x":{"field":"x","type":"quantitative","scale":{"domain":[-15,10],"nice":false,"zero":false},"axis":{"title":"PC1 31.8%","values":[-15,-10,-5,0,5,10]}},
"y":{"field":"y","type":"quantitative","scale":{"domain":[-10,5],"nice":false,"zero":false},"axis":{"title":"PC2 19.2%","values":[-10,-5,0,5]}},
"color":{"field":"v","type":"nominal","scale":{"domain":["Balado","Gerald","Mascani","Tardis"],"range":["#666666","#6a6a6a","#bdbdbd","#676767"]},"legend":{"orient":"none","legendX":8,"legendY":210.5,"title":null,"padding":0,"symbolSize":62,"labelFontSize":7,"labelFont":"Lato","labelColor":"#222","rowPadding":2.5,"labelOffset":4}},
"shape":{"field":"v","type":"nominal","scale":{"domain":["Balado","Gerald","Mascani","Tardis"],"range":["square","triangle-up","M0,-1L0.62,0L0,1L-0.62,0Z","circle"]},"legend":{"orient":"none","legendX":8,"legendY":210.5,"title":null,"padding":0,"symbolSize":62,"labelFontSize":7,"labelFont":"Lato","labelColor":"#222","rowPadding":2.5,"labelOffset":4}}}},
{"data":{"values":[{}]},"mark":{"type":"text","text":"ASCA, Varieties (Neg)","font":"Liberation Sans","fontSize":6.2,"fontWeight":"bold","align":"center","baseline":"middle","color":"#222"},"encoding":{"x":{"datum":-2.5,"type":"quantitative"},"y":{"datum":5.63,"type":"quantitative"}}},
{"data":{"values":[{}]},"mark":{"type":"text","text":"(E)","font":"Liberation Sans","fontSize":12.5,"fontWeight":"bold","align":"center","baseline":"middle","color":"#111"},"encoding":{"x":{"datum":-17.45,"type":"quantitative"},"y":{"datum":6.1,"type":"quantitative"}}}
]}
],"spacing":46,"bounds":"flush","resolve":{"scale":{"color":"independent","shape":"independent"}}},
{"vconcat":[
{"width":203,"height":191,
"layer":[
{"data":{"name":"D"},"mark":{"type":"point","filled":true,"size":28,"opacity":1},
"encoding":{
"x":{"field":"x","type":"quantitative","scale":{"domain":[-15,15],"nice":false,"zero":false},"axis":{"title":"PC1 30.6%","values":[-10,-5,0,5,10,15]}},
"y":{"field":"y","type":"quantitative","scale":{"domain":[-11,9],"nice":false,"zero":false},"axis":{"title":"PC2 17.5%","values":[-10,-8,-6,-4,-2,0,2,4,6,8]}},
"color":{"field":"n","type":"nominal","scale":{"domain":["Control","Level 1 Nitrogen","Level 2 Nitrogen","Level 3 Nitrogen","Level 4 Nitrogen"],"range":["#262626","#4d4d4d","#dadada","#a5a5a5","#727272"]},"legend":null},
"shape":{"field":"v","type":"nominal","scale":{"domain":["Balado","Gerald","Mascani","Tardis"],"range":["square","triangle-up","M0,-1L0.62,0L0,1L-0.62,0Z","circle"]},"legend":null}}},
{"data":{"values":[{}]},"mark":{"type":"text","text":"ASCA, nitrogen level (Pos)","font":"Liberation Sans","fontSize":6.2,"fontWeight":"bold","align":"center","baseline":"middle","color":"#222"},"encoding":{"x":{"datum":-0.5,"type":"quantitative"},"y":{"datum":9.73,"type":"quantitative"}}},
{"data":{"values":[{}]},"mark":{"type":"text","text":"(D)","font":"Liberation Sans","fontSize":12.5,"fontWeight":"bold","align":"center","baseline":"middle","color":"#111"},"encoding":{"x":{"datum":-16.18,"type":"quantitative"},"y":{"datum":10.68,"type":"quantitative"}}}
]},
{"width":202,"height":191,
"layer":[
{"data":{"name":"F"},"mark":{"type":"point","filled":true,"size":28,"opacity":1},
"encoding":{
"x":{"field":"x","type":"quantitative","scale":{"domain":[-8,10],"nice":false,"zero":false},"axis":{"title":"PC1 28.7%","values":[-8,-6,-4,-2,0,2,4,6,8,10]}},
"y":{"field":"y","type":"quantitative","scale":{"domain":[-5,5],"nice":false,"zero":false},"axis":{"title":"PC1 11.4%","values":[-5,-4,-3,-2,-1,0,1,2,3,4,5]}},
"color":{"field":"n","type":"nominal","scale":{"domain":["Control","Level 1 Nitrogen","Level 2 Nitrogen","Level 3 Nitrogen","Level 4 Nitrogen"],"range":["#262626","#4d4d4d","#dadada","#a5a5a5","#727272"]},"legend":{"orient":"none","legendX":-7,"legendY":213,"title":null,"padding":0,"symbolType":"square","symbolSize":69,"labelFontSize":6.8,"labelFont":"Lato","labelColor":"#222","rowPadding":0,"labelOffset":1.5}},
"shape":{"field":"v","type":"nominal","scale":{"domain":["Balado","Gerald","Mascani","Tardis"],"range":["square","triangle-up","M0,-1L0.62,0L0,1L-0.62,0Z","circle"]},"legend":null}}},
{"data":{"values":[{}]},"mark":{"type":"text","text":"ASCA, nitrogen level (Neg)","font":"Liberation Sans","fontSize":6.2,"fontWeight":"bold","align":"center","baseline":"middle","color":"#222"},"encoding":{"x":{"datum":0.64,"type":"quantitative"},"y":{"datum":5.47,"type":"quantitative"}}},
{"data":{"values":[{}]},"mark":{"type":"text","text":"(F)","font":"Liberation Sans","fontSize":12.5,"fontWeight":"bold","align":"center","baseline":"middle","color":"#111"},"encoding":{"x":{"datum":-8.71,"type":"quantitative"},"y":{"datum":5.79,"type":"quantitative"}}}
]}
],"spacing":42,"bounds":"flush","resolve":{"scale":{"color":"independent","shape":"independent"}}}
],"spacing":8.5,"resolve":{"scale":{"color":"independent","shape":"independent"}}}
],
"spacing":12.7,
"resolve":{"scale":{"color":"independent","shape":"independent"}},
"config":{
"view":{"stroke":null},
"axis":{"domainColor":"#555","domainWidth":0.8,"tickColor":"#555","tickSize":2,"tickWidth":0.6,"labelFont":"Liberation Sans","labelFontSize":5,"labelColor":"#444","labelPadding":1,"labelFlush":false,"labelOverlap":false,"titleFont":"Lato","titleFontSize":6.5,"titleFontWeight":"normal","titleColor":"#333","titlePadding":3,"grid":false},
"legend":{"padding":0,"labelFont":"Lato","symbolStrokeWidth":0}
}
}
